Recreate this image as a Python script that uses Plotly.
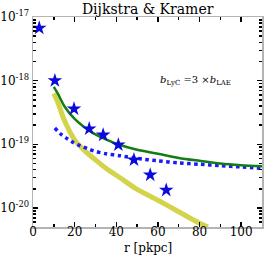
import plotly.graph_objects as go

# Observed points (stars)
obs_r = [3, 10.5, 19.7, 27, 33.7, 41, 48.5, 56.3, 64]
obs_val = [6.7e-18, 1.0e-18, 3.6e-19, 1.75e-19, 1.4e-19, 9.8e-20, 5.7e-20, 3.3e-20, 1.9e-20]

# Green solid model
green_r = [10, 12, 15, 20, 25, 30, 35, 40, 50, 60, 70, 80, 90, 100, 110]
green_val = [8.0e-19, 6.2e-19, 4.0e-19, 2.5e-19, 1.82e-19, 1.43e-19, 1.19e-19, 1.02e-19,
             8.2e-20, 7.1e-20, 6.1e-20, 5.5e-20, 5.0e-20, 4.7e-20, 4.5e-20]

# Blue dotted model
blue_r = [10.5, 13, 16, 19, 22.6, 26, 29, 35, 42, 50, 60, 70, 80, 90, 100, 110]
blue_val = [1.8e-19, 1.48e-19, 1.25e-19, 1.08e-19, 9.5e-20, 8.6e-20, 7.9e-20, 7.1e-20,
            6.6e-20, 6.0e-20, 5.5e-20, 5.1e-20, 4.85e-20, 4.6e-20, 4.4e-20, 4.2e-20]

# Yellow thick model
yellow_r = [10, 12, 15, 20, 25, 30, 35, 42, 49, 60, 70, 80, 84]
yellow_val = [6.3e-19, 4.5e-19, 2.4e-19, 1.17e-19, 7.8e-20, 5.7e-20, 4.2e-20, 2.95e-20,
              2.05e-20, 1.32e-20, 8.7e-21, 5.75e-21, 5.0e-21]

# Y tick labels
y_tick_vals = [1e-20, 1e-19, 1e-18, 1e-17]
y_tick_text = ["10<sup>-20</sup>", "10<sup>-19</sup>", "10<sup>-18</sup>", "10<sup>-17</sup>"]
x_tick_vals = [0, 20, 40, 60, 80, 100]
x_tick_text = ["0", "20", "40", "60", "80", "100"]

FONT = "DejaVu Serif"

y_minor = [m * 10.0 ** e for e in (-21, -20, -19, -18) for m in range(2, 10)]

fig = go.Figure()
fig.add_trace(go.Scatter(x=yellow_r, y=yellow_val, mode="lines",
                         line=dict(color="#d4d44c", width=5, shape="spline", smoothing=0.8),
                         showlegend=False, hoverinfo="skip"))
fig.add_trace(go.Scatter(x=blue_r, y=blue_val, mode="lines",
                         line=dict(color="#1a1aff", width=3.5, dash="dot", shape="spline", smoothing=0.8),
                         showlegend=False, hoverinfo="skip"))
fig.add_trace(go.Scatter(x=green_r, y=green_val, mode="lines",
                         line=dict(color="#137c13", width=2.5, shape="spline", smoothing=0.8),
                         showlegend=False, hoverinfo="skip"))
fig.add_trace(go.Scatter(x=obs_r, y=obs_val, mode="markers",
                         marker=dict(symbol="star", size=11, color="#0a0adc",
                                     line=dict(width=0)),
                         showlegend=False, hoverinfo="skip"))

fig.add_annotation(x=78, y=-18, xref="x", yref="y",
                   text="<i>b</i><sub>LyC</sub> =3 ×<i>b</i><sub>LAE</sub>",
                   showarrow=False, font=dict(family=FONT, size=10, color="black"))

fig.add_annotation(x=0.5, y=-0.1, xref="paper", yref="paper",
                   text="r [pkpc]", showarrow=False, xanchor="center", yanchor="middle",
                   font=dict(family=FONT, size=12, color="black"))

axis_common = dict(
    showline=True, linecolor="#b4b4b4", linewidth=1.5, mirror="allticks",
    ticks="inside", tickcolor="black", tickwidth=1.5, ticklen=5,
    showgrid=False, zeroline=False, automargin=False,
    tickfont=dict(family=FONT, size=12, color="black"),
)

fig.update_xaxes(range=[0, 110], tickmode="array", tickvals=x_tick_vals, ticktext=x_tick_text,
                 ticklabelstandoff=-7,
                 minor=dict(ticks="inside", dtick=10, tick0=0, ticklen=3, tickcolor="black", showgrid=False),
                 **axis_common)
fig.update_yaxes(type="log", range=[-20.3, -17], tickmode="array",
                 tickvals=y_tick_vals, ticktext=y_tick_text,
                 minor=dict(ticks="inside", tickmode="array", tickvals=y_minor, ticklen=3,
                            tickcolor="black", showgrid=False),
                 **axis_common)

fig.update_layout(
    width=266, height=256,
    margin=dict(l=33, r=4, t=17, b=29, autoexpand=False),
    paper_bgcolor="white", plot_bgcolor="white",
    title=dict(text="Dijkstra & Kramer", x=0.555, xanchor="center", y=0.985, yanchor="top",
               font=dict(family=FONT, size=14, color="black"), automargin=False),
    font=dict(family=FONT, color="black"),
    hovermode=False,
)

fig.write_html("out.html", config={"displayModeBar": False, "staticPlot": True},
               post_script="document.body.style.margin='0';document.body.style.overflow='hidden';")
